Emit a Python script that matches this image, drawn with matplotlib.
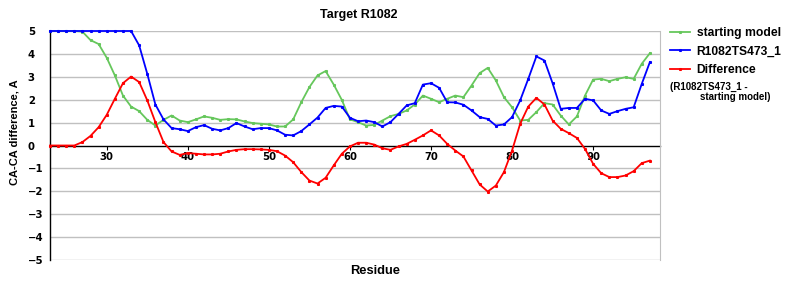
import matplotlib
matplotlib.use("Agg")
import matplotlib.pyplot as plt
import numpy as np

residues = list(range(23, 98))

starting_model = [5.0, 5.0, 5.0, 5.0, 4.97, 4.60, 4.43, 3.83, 3.06, 2.18,
                  1.70, 1.50, 1.12, 0.87, 1.12, 1.31, 1.09, 1.02, 1.14, 1.27,
                  1.21, 1.12, 1.15, 1.14, 1.05, 0.98, 0.95, 0.92, 0.83, 0.83,
                  1.14, 1.89, 2.55, 3.06, 3.25, 2.66, 1.99, 1.14, 1.02, 0.87,
                  0.90, 1.09, 1.28, 1.38, 1.53, 1.79, 2.18, 2.04, 1.89, 2.04,
                  2.18, 2.11, 2.62, 3.16, 3.39, 2.84, 2.11, 1.67, 1.09, 1.12,
                  1.46, 1.85, 1.79, 1.31, 0.92, 1.27, 2.18, 2.88, 2.91, 2.81,
                  2.91, 2.98, 2.91, 3.57, 4.03]

model_473 = [5.0, 5.0, 5.0, 5.0, 5.0, 5.0, 5.0, 5.0, 5.0, 5.0,
             5.0, 4.37, 3.13, 1.79, 1.14, 0.76, 0.71, 0.63, 0.80, 0.89,
             0.73, 0.66, 0.76, 0.98, 0.83, 0.71, 0.76, 0.76, 0.66, 0.47,
             0.44, 0.63, 0.92, 1.22, 1.64, 1.73, 1.70, 1.21, 1.06, 1.09,
             1.02, 0.83, 1.02, 1.38, 1.75, 1.85, 2.66, 2.72, 2.52, 1.89,
             1.88, 1.78, 1.53, 1.24, 1.16, 0.87, 0.92, 1.24, 1.97, 2.91,
             3.89, 3.71, 2.72, 1.60, 1.64, 1.64, 2.04, 1.97, 1.53, 1.38,
             1.50, 1.60, 1.67, 2.69, 3.64]

difference = [0.0, 0.0, 0.0, 0.0, 0.15, 0.42, 0.80, 1.34, 2.04, 2.72,
              3.01, 2.77, 1.97, 1.02, 0.15, -0.26, -0.41, -0.33, -0.36, -0.39,
              -0.39, -0.36, -0.26, -0.19, -0.16, -0.16, -0.17, -0.19, -0.25, -0.44,
              -0.73, -1.16, -1.53, -1.66, -1.41, -0.87, -0.36, -0.04, 0.12, 0.12,
              0.04, -0.12, -0.19, -0.04, 0.07, 0.25, 0.44, 0.66, 0.44, 0.07,
              -0.22, -0.48, -1.09, -1.70, -2.01, -1.75, -1.16, -0.22, 0.95, 1.70,
              2.08, 1.79, 1.09, 0.73, 0.54, 0.33, -0.15, -0.80, -1.21, -1.38,
              -1.38, -1.31, -1.12, -0.77, -0.66]

x_ticks = [30, 40, 50, 60, 70, 80, 90]
y_ticks = [5, 4, 3, 2, 1, 0, -1, -2, -3, -4, -5]

fig = plt.figure(figsize=(8, 3), dpi=100)
ax = fig.add_axes([50 / 800, 1 - 260 / 300, 610 / 800, 229 / 300])

ax.set_xlim(23, 98.25)
ax.set_ylim(-5, 5)

grid_c = "#c0c0c0"
for yv in y_ticks:
    if yv != 0:
        ax.axhline(yv, color=grid_c, lw=1.0, zorder=0.5)

ax.plot(residues, starting_model, color="#66c75c", lw=1.3, marker="s", ms=1.2,
        label="starting model", clip_on=False, zorder=3)
ax.plot(residues, model_473, color="#0000ff", lw=1.3, marker="s", ms=1.2,
        label="R1082TS473_1", clip_on=False, zorder=4)
ax.plot(residues, difference, color="#ff0000", lw=1.3, marker="s", ms=1.2,
        label="Difference", clip_on=False, zorder=5)

# spines
ax.spines["top"].set_visible(False)
ax.spines["right"].set_color(grid_c)
ax.spines["left"].set_color("black")
ax.spines["left"].set_linewidth(1.0)
ax.spines["bottom"].set_position(("data", 0))
ax.spines["bottom"].set_color("black")
ax.spines["bottom"].set_linewidth(1.0)
ax.spines["bottom"].set_zorder(2)

ax.set_xticks(x_ticks)
ax.set_xticklabels([str(t) for t in x_ticks], fontsize=7.3, fontweight="bold",
                   family="DejaVu Sans")
ax.tick_params(axis="x", length=3, width=0.8, pad=2, color="black")

ax.set_yticks(y_ticks)
ax.set_yticklabels([("\u2212" + str(-t)) if t < 0 else str(t) for t in y_ticks],
                   fontsize=7.3, fontweight="bold", family="DejaVu Sans", ha="left")
ax.tick_params(axis="y", length=0, pad=16)

fig.text(359 / 800, 1 - 15 / 300, "Target R1082", ha="center", va="center",
         fontsize=9, fontweight="bold", family="Liberation Sans")
fig.text(375 / 800, 1 - 271 / 300, "Residue", ha="center", va="center",
         fontsize=9.3, fontweight="bold", family="Liberation Sans")
fig.text(15 / 800, 1 - 132 / 300, "CA-CA difference, A", ha="center", va="center",
         rotation=90, fontsize=8, fontweight="bold", family="Liberation Sans")

leg = ax.legend(loc="upper left", bbox_to_anchor=(670 / 800, 1 - 27 / 300),
                bbox_transform=fig.transFigure, frameon=False,
                prop={"family": "Liberation Sans", "weight": "bold", "size": 8.7},
                handlelength=1.65, handletextpad=0.55, labelspacing=0.55,
                borderpad=0, borderaxespad=0, markerscale=1.0)
fig.text(670 / 800, 1 - 87 / 300, "(R1082TS473_1 -", ha="left", va="center",
         fontsize=7, fontweight="bold", family="Liberation Sans")
fig.text(700 / 800, 1 - 97 / 300, "starting model)", ha="left", va="center",
         fontsize=7, fontweight="bold", family="Liberation Sans")

fig.savefig("out.png", dpi=100)
